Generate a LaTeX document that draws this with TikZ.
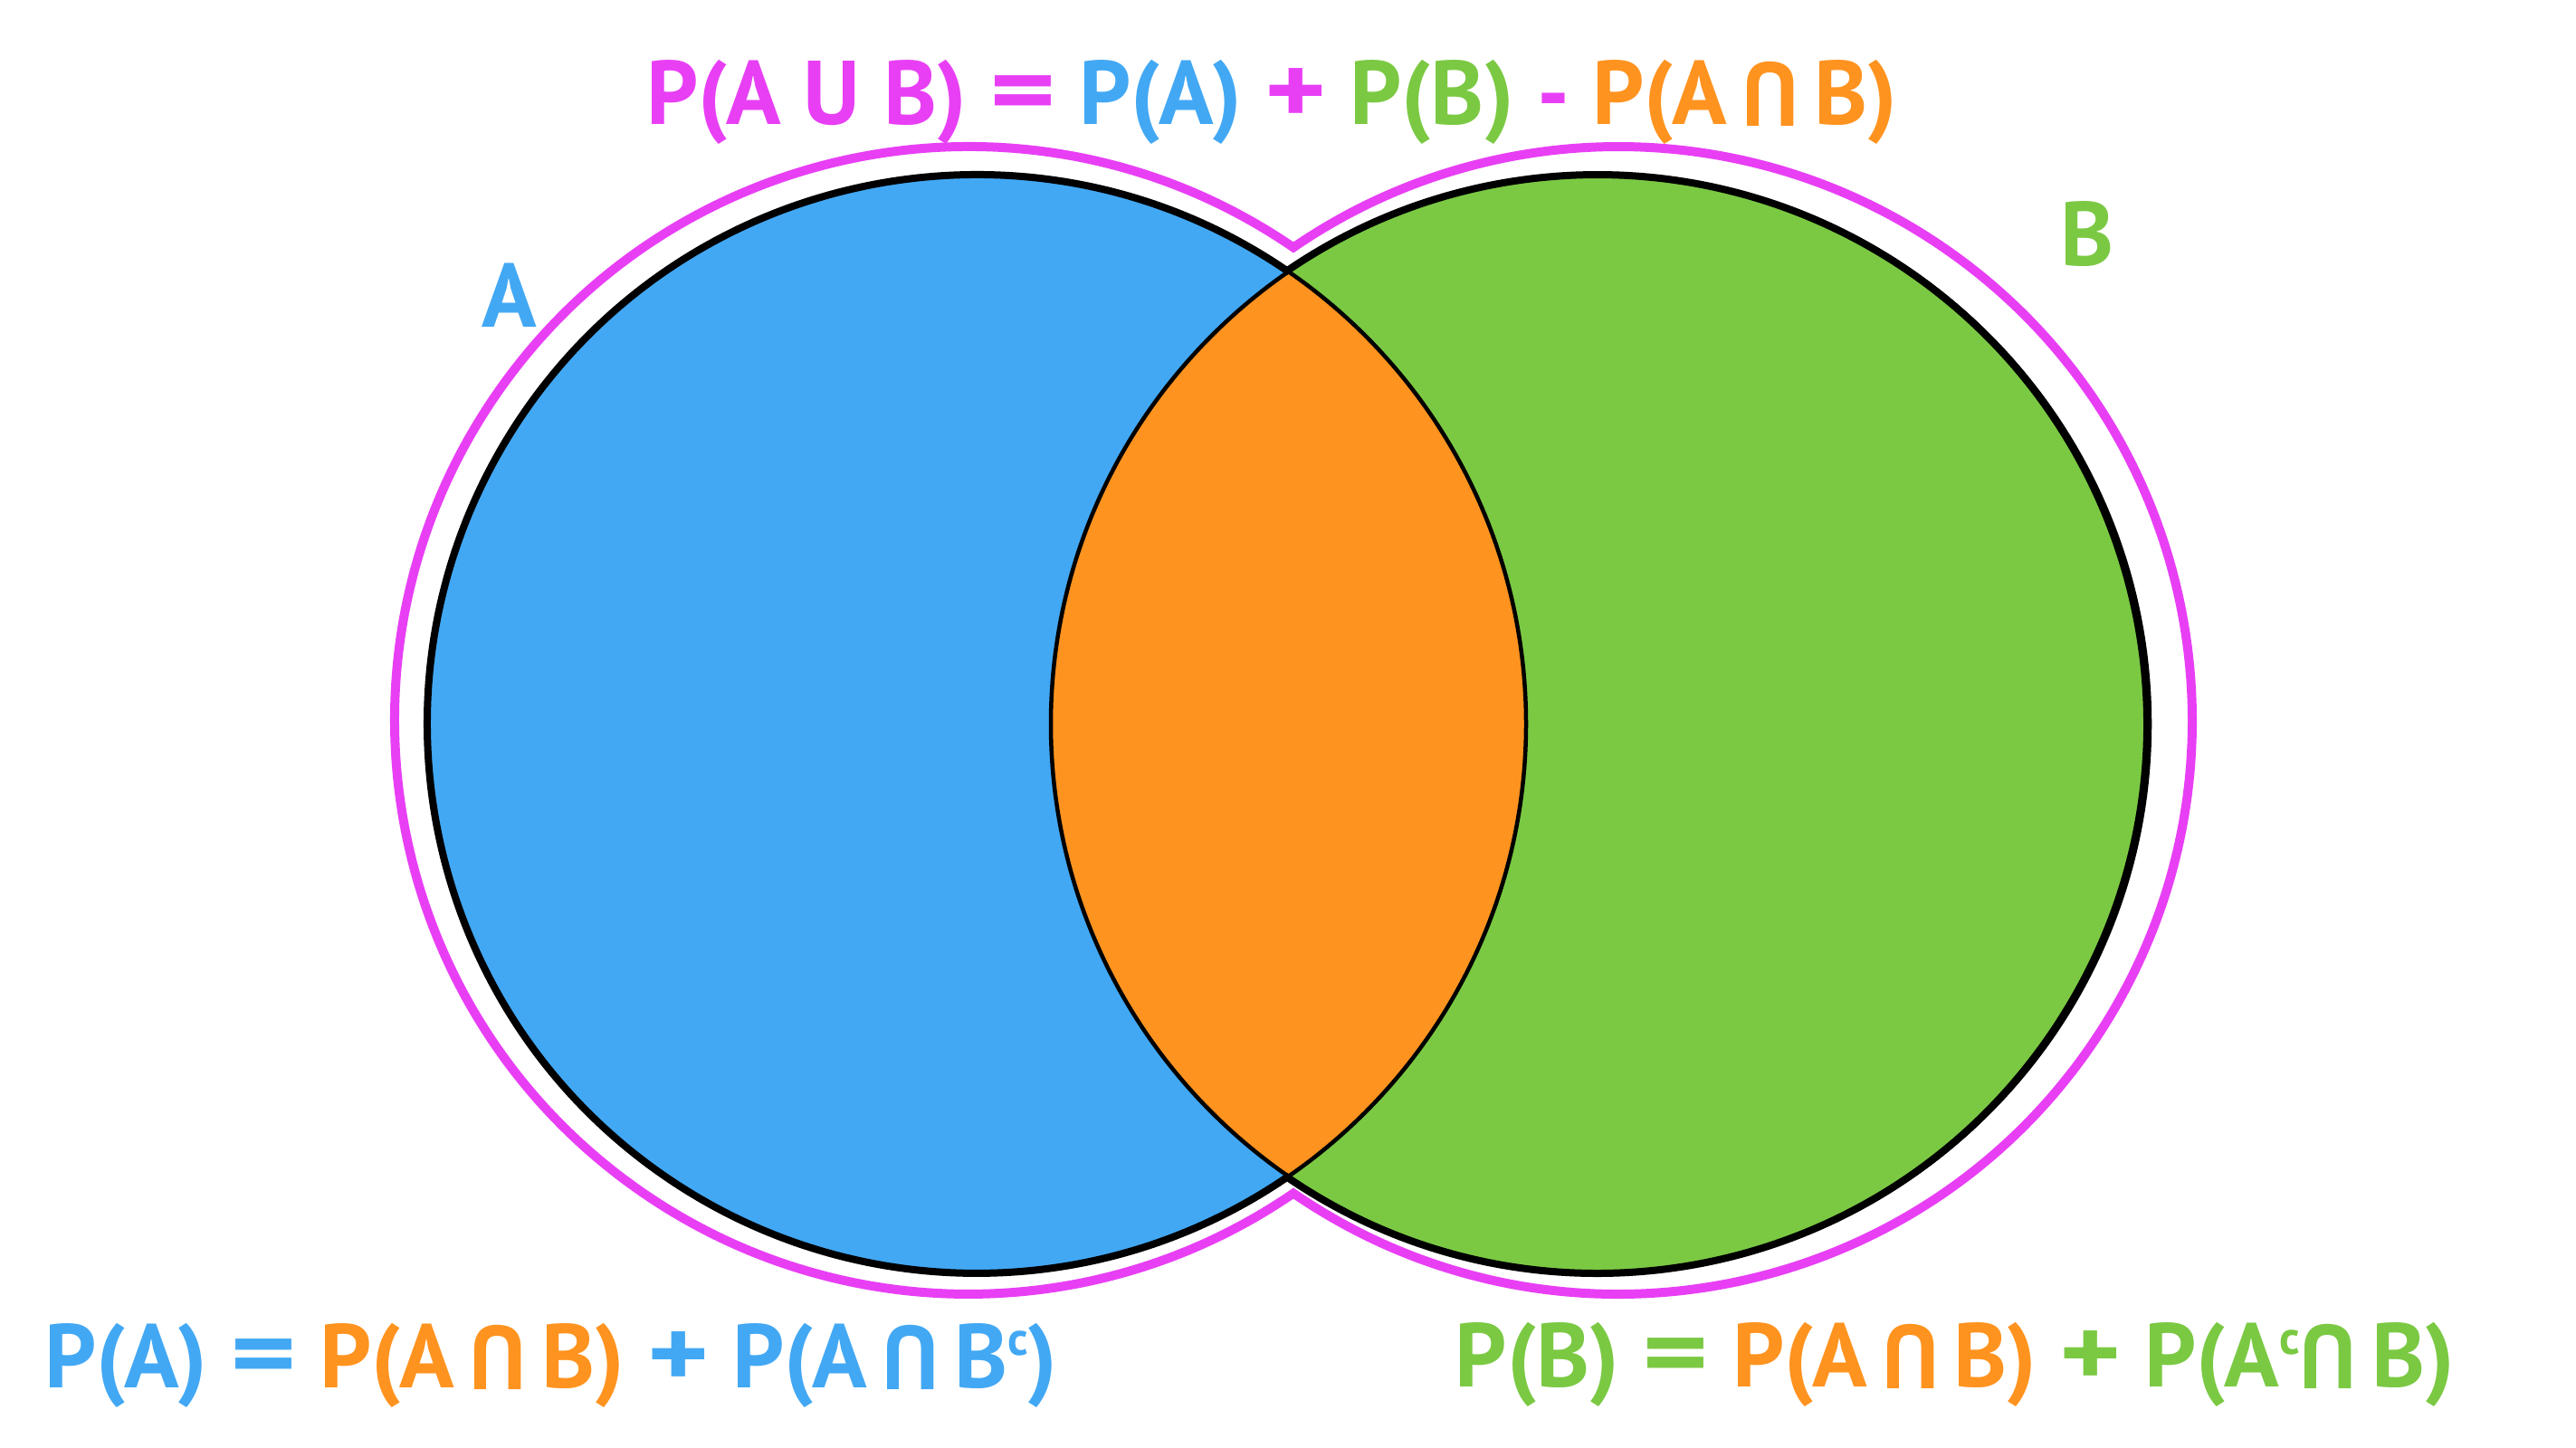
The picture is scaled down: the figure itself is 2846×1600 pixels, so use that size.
\documentclass[tikz,border=0pt]{standalone}
\usepackage{fontspec}
\setmainfont{PT Sans}
\usepackage{graphicx}
\usetikzlibrary{calc}
\definecolor{cblue}{HTML}{42A8F4}
\definecolor{cgreen}{HTML}{7BC943}
\definecolor{corange}{HTML}{FF931F}
\definecolor{cpink}{HTML}{E83FF5}
\newcommand{\myint}{\rotatebox[origin=c]{180}{U}}
\newcommand{\mysup}{\raisebox{0.36em}{\fontsize{52}{60}\selectfont c}}
\newcommand{\myeq}{\scalebox{1.4}[1.1]{=}}
\newcommand{\myplus}{\scalebox{1.3}[1.1]{+}}
\tikzset{
  eqtext/.style={font=\fontsize{100}{120}\selectfont\bfseries, inner sep=0pt, anchor=base},
  lbltext/.style={font=\fontsize{100}{120}\selectfont\bfseries, inner sep=0pt},
  outline/.style={line width=8pt, line join=miter, draw=black},
  innerline/.style={line width=4.5pt, draw=black},
  unionline/.style={line width=10pt, line join=miter, draw=cpink}
}
\begin{document}
\begin{tikzpicture}[x=1pt,y=1pt]
\useasboundingbox (0,0) rectangle (2846,1600);
\fill[white] (0,0) rectangle (2846,1600);
\coordinate (ca) at (1079,800);
\coordinate (cb) at (1768,800);
\coordinate (pa) at (1070,804);
\coordinate (pb) at (1788,804);
% fills
\fill[cblue] (ca) circle[radius=607pt];
\fill[cgreen] (cb) circle[radius=607pt];
\begin{scope}
  \clip (ca) circle[radius=607pt];
  \fill[corange] (cb) circle[radius=607pt];
\end{scope}
% lens lines
\draw[innerline] (ca) circle[radius=607pt];
\draw[innerline] (cb) circle[radius=607pt];
% outer black
\draw[outline] ($(ca)+(55.59:607)$) arc[start angle=55.59, end angle=304.41, radius=607pt]
  arc[start angle=-124.41, end angle=124.41, radius=607pt] -- cycle;
% pink union
\draw[unionline] ($(pa)+(55.51:634)$) arc[start angle=55.51, end angle=304.49, radius=634pt]
  arc[start angle=-124.49, end angle=124.49, radius=634pt] -- cycle;
% labels
\node[lbltext, text=cblue] (la) at (563,1274) {A};
\node[lbltext, text=cgreen] (lb) at (2306,1341) {B};
% equations
\node[eqtext] (top) at (1405,1462) {\textcolor{cpink}{P(A U B) \myeq} \textcolor{cblue}{P(A)} \textcolor{cpink}{\myplus} \textcolor{cgreen}{P(B)} \textcolor{cpink}{-} \textcolor{corange}{P(A\,\myint\,B)}};
\node[eqtext] (left) at (609,66) {\textcolor{cblue}{P(A) \myeq} \textcolor{corange}{P(A\,\myint\,B)} \textcolor{cblue}{\myplus{} P(A\,\myint\,B\mysup)}};
\node[eqtext] (right) at (2160,67) {\textcolor{cgreen}{P(B) \myeq} \textcolor{corange}{P(A\,\myint\,B)} \textcolor{cgreen}{\myplus{} P(A\mysup\myint\,B)}};
\end{tikzpicture}
\end{document}
